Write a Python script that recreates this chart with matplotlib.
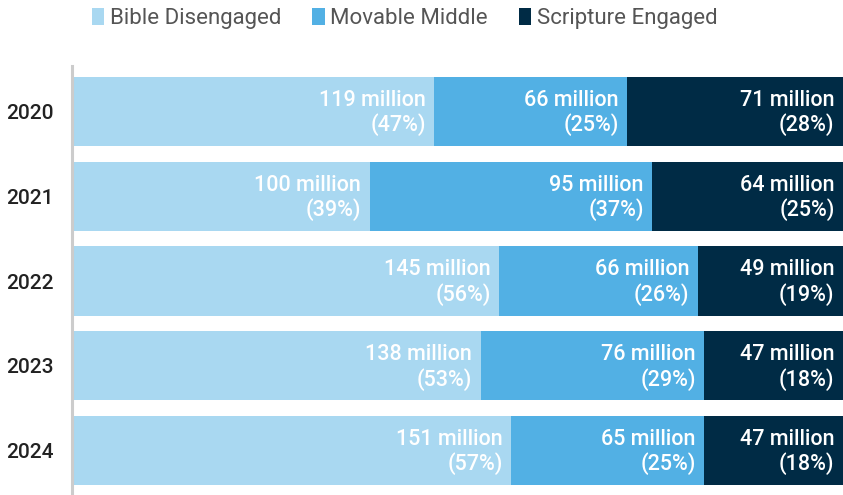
import matplotlib
matplotlib.use("Agg")
import matplotlib.pyplot as plt
from matplotlib.patches import Patch

plt.rcParams['font.family'] = ['Roboto', 'Liberation Sans', 'DejaVu Sans']

years = ["2020", "2021", "2022", "2023", "2024"]
series = ["Bible Disengaged", "Movable Middle", "Scripture Engaged"]
colors = ["#A9D8F1", "#52B0E4", "#002B45"]

millions = [
    [119, 100, 145, 138, 151],
    [66, 95, 66, 76, 65],
    [71, 64, 49, 47, 47],
]
percents = [
    [47, 39, 56, 53, 57],
    [25, 37, 26, 29, 25],
    [28, 25, 19, 18, 18],
]

W, H = 843, 495
fig = plt.figure(figsize=(W / 100, H / 100), dpi=100)
ax = fig.add_axes([72 / W, 0, 771 / W, (495 - 66) / H])

left = [0.0] * len(years)
for s in range(len(series)):
    for i in range(len(years)):
        total = sum(percents[k][i] for k in range(len(series)))
        w = percents[s][i] / total
        ax.barh(i, w, left=left[i], height=0.815, color=colors[s], linewidth=0)
        ax.text(left[i] + w - 0.011, i + 0.02,
                f"{millions[s][i]} million\n({percents[s][i]}%)",
                ha="right", va="center", color="white", fontsize=15.5,
                fontweight="medium", linespacing=1.15)
        left[i] += w

ax.set_xlim(0, 1)
ax.set_ylim(4.525, -0.537)
ax.set_yticks(range(len(years)))
ax.set_yticklabels(years, fontsize=15, color="#222222", fontweight="medium")
ax.tick_params(axis="y", length=0, pad=13)
ax.set_xticks([])
for side in ["top", "right", "bottom"]:
    ax.spines[side].set_visible(False)
ax.spines["left"].set_color("#CCCCCC")
ax.spines["left"].set_linewidth(2.2)

handles = [Patch(facecolor=c, edgecolor="none") for c in colors]
fig.legend(handles, series, loc="upper center", bbox_to_anchor=(0.48, 1.025),
           ncol=3, frameon=False, fontsize=16, labelcolor="#555555",
           handlelength=0.55, handleheight=0.85, handletextpad=0.25,
           columnspacing=1.4)

fig.savefig("out.png", dpi=100)
